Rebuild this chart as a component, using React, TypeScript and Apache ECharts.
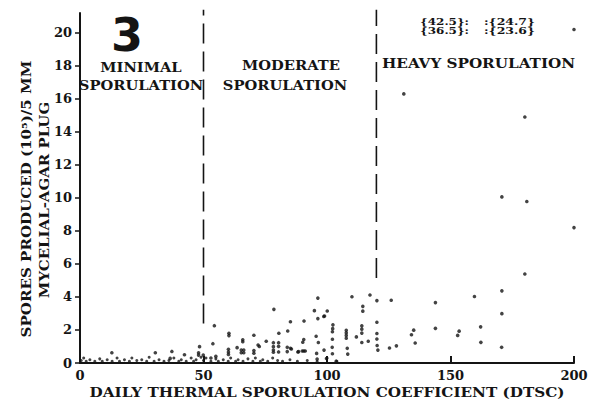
import React, { useEffect, useRef } from "react";
import * as echarts from "echarts";

const xTicks = [0, 50, 100, 150, 200];
const yTicks = [0, 2, 4, 6, 8, 10, 12, 14, 16, 18, 20];

// near-zero observations along the baseline
const baselinePoints: number[][] = [
  [0.5, 0.15], [1.5, 0.3], [2.5, 0.1], [4, 0.2], [6, 0.1], [8, 0.25], [9, 0.1], [11, 0.2],
  [13, 0.1], [15, 0.3], [16, 0.1], [18, 0.2], [20, 0.1], [21, 0.3], [23, 0.15], [25, 0.2],
  [27, 0.1], [28, 0.35], [30, 0.1], [32, 0.2], [34, 0.1], [36, 0.15], [38, 0.3], [40, 0.1],
  [41, 0.2], [43, 0.1], [45, 0.3], [46, 0.1], [47, 0.2], [49, 0.35], [50, 0.15], [51, 0.3],
  [53, 0.1], [55, 0.25], [56, 0.1], [58, 0.2], [60, 0.1], [61, 0.3], [63, 0.1], [64, 0.2],
  [66, 0.1], [68, 0.25], [70, 0.1], [71, 0.3], [73, 0.1], [74, 0.2], [76, 0.1], [78, 0.3],
  [80, 0.15], [82, 0.1], [85, 0.2], [88, 0.1], [92, 0.15], [96, 0.1], [100, 0.3], [104, 0.1],
];

// observations above the baseline
const sporePoints: number[][] = [
  [12.9, 0.62], [30.5, 0.62], [37.2, 0.7], [36.5, 0.28], [42.3, 0.5], [48, 0.62], [48, 0.48],
  [48.4, 0.99], [49.9, 0.48], [54.4, 2.26], [53.8, 1.17], [55, 0.4], [53, 0.3],
  [60.3, 1.8], [60.3, 1.66], [60.1, 0.83], [60.1, 0.67], [60.1, 0.52], [63.6, 0.93],
  [65.3, 0.79], [66.3, 0.79], [65.3, 0.62], [66.3, 0.62], [65.9, 1.41], [65.9, 1.29],
  [70.4, 1.68], [70.4, 0.75], [70.4, 0.59], [72.1, 1.09], [72.6, 1.0], [75.4, 1.32],
  [78.5, 3.25], [78.3, 1.23], [78.3, 0.99], [78.3, 0.79], [78.3, 0.65], [80.5, 1.8],
  [80.4, 1.23], [80.4, 1.01], [80.4, 0.67], [84.1, 1.94], [85.2, 2.5], [83.9, 0.95],
  [83.9, 0.69], [85.6, 0.85], [85.2, 0.89], [88.2, 0.67], [88.5, 0.69],
  [90.7, 2.54], [90.6, 1.42], [90.2, 1.26], [90.0, 0.73], [90.6, 0.73], [91.2, 0.73],
  [94.9, 3.17], [96.3, 3.93], [96.3, 2.69], [95.6, 1.62], [96.5, 1.24], [95.8, 0.58],
  [96, 0.24], [99, 2.85], [98.7, 2.82], [100.1, 3.15], [98.8, 0.78], [99.8, 0.27],
  [102.4, 2.31], [102.3, 2.08], [102.2, 1.89], [102.2, 1.44], [102.1, 0.95], [102.2, 0.56],
  [103.7, 0.11], [107.8, 1.98], [107.8, 1.83], [107.8, 1.67], [107.8, 1.5], [108.2, 0.89],
  [108.4, 0.54], [110.1, 4.01], [111.9, 1.58], [114.1, 2.25], [114.1, 2.05], [114.1, 1.81],
  [114.1, 1.24], [114.5, 3.43], [114.5, 3.14], [116.7, 1.32], [117.4, 4.12], [120.2, 3.78],
  [120.2, 2.47], [120.2, 1.79], [120.2, 1.45], [120.3, 1.06], [120.6, 0.78], [125.3, 0.91],
  [126, 3.8], [128.1, 1.04], [131.1, 16.3], [134.2, 1.71], [135.1, 1.99], [135.7, 1.21],
  [143.9, 3.66], [143.9, 2.1], [152.9, 1.67], [153.5, 1.93], [159.7, 4.03], [162.2, 2.19],
  [162.3, 1.25], [170.8, 4.37], [170.8, 2.99], [170.7, 0.95], [170.8, 10.06], [180.1, 5.39],
  [180.1, 14.9], [180.9, 9.78], [200, 8.2], [200, 20.2],
];

// class boundaries (DTSC) and where their dashed lines stop
const boundaryMinimal: number[][] = [[50, 2.4], [50, 21.4]];
const boundaryHeavy: number[][] = [[120, 5.15], [120, 21.4]];

// off-scale values noted at the top right
const offScaleLeft = "{42.5}:\n{36.5}:";
const offScaleRight = ":{24.7}\n:{23.6}";

const INK = "#141414";
const SERIF = "'DejaVu Serif', serif";

export default function App() {
  const ref = useRef<HTMLDivElement>(null);

  useEffect(() => {
    if (!ref.current) return;
    const chart = echarts.init(ref.current, null, { renderer: "svg" });
    const labelFont = { fontFamily: SERIF, fontWeight: "bold" as const, color: INK };
    const dashed = {
      type: "line",
      symbol: "none",
      clip: false,
      silent: true,
      lineStyle: { color: INK, width: 1.6, type: [20, 8] },
    };
    const label = (text: string, x: number, y: number, align: string, scaleX: number) => ({
      type: "text",
      x,
      y,
      scaleX,
      style: { text, font: `bold 13px ${SERIF}`, fill: INK, textAlign: align, textVerticalAlign: "middle" },
    });
    chart.setOption({
      animation: false,
      backgroundColor: "#ffffff",
      grid: { left: 80, right: 19, top: 13, bottom: 37 },
      xAxis: {
        type: "value",
        min: 0,
        max: 200,
        interval: 50,
        axisLine: { show: true, lineStyle: { color: INK, width: 2 } },
        axisTick: { show: true, inside: true, length: 7, lineStyle: { color: INK, width: 2 }, customValues: xTicks },
        axisLabel: { ...labelFont, fontSize: 13, margin: 6, customValues: xTicks },
        splitLine: { show: false },
      },
      yAxis: {
        type: "value",
        min: 0,
        max: 21.2,
        interval: 2,
        axisLine: { show: true, lineStyle: { color: INK, width: 2 } },
        axisTick: { show: true, length: 5, lineStyle: { color: INK, width: 1.5 }, customValues: yTicks },
        axisLabel: { ...labelFont, fontSize: 13, margin: 8, customValues: yTicks },
        splitLine: { show: false },
      },
      series: [
        {
          type: "scatter",
          data: baselinePoints,
          symbolSize: 3,
          clip: false,
          itemStyle: { color: INK },
        },
        {
          type: "scatter",
          data: sporePoints,
          symbolSize: 3.6,
          clip: false,
          itemStyle: { color: INK },
        },
        { ...dashed, data: boundaryMinimal },
        { ...dashed, data: boundaryHeavy },
      ],
      graphic: [
        {
          type: "text",
          x: 127,
          y: 35,
          style: {
            text: "3",
            fontFamily: "'DejaVu Sans', sans-serif",
            fontWeight: "bold",
            fontSize: 46,
            fill: INK,
            textAlign: "center",
            textVerticalAlign: "middle",
          },
        },
        label("MINIMAL", 141, 67, "center", 1.13),
        label("SPORULATION", 141, 85, "center", 1.13),
        label("MODERATE", 291, 65, "center", 1.13),
        label("SPORULATION", 285, 85, "center", 1.13),
        label("HEAVY SPORULATION", 382, 63, "left", 1.17),
        {
          type: "text",
          x: 420,
          y: 26,
          scaleX: 1.2,
          style: {
            text: offScaleLeft,
            font: `bold 10px ${SERIF}`,
            lineHeight: 9,
            fill: INK,
            textAlign: "left",
            textVerticalAlign: "middle",
          },
        },
        {
          type: "text",
          x: 484,
          y: 26,
          scaleX: 1.25,
          style: {
            text: offScaleRight,
            font: `bold 10px ${SERIF}`,
            lineHeight: 9,
            fill: INK,
            textAlign: "left",
            textVerticalAlign: "middle",
          },
        },
        {
          type: "text",
          x: 26,
          y: 199,
          rotation: Math.PI / 2,
          scaleX: 1.16,
          style: {
            text: "SPORES PRODUCED (10\u2075)/5 MM",
            font: `bold 13px ${SERIF}`,
            fill: INK,
            textAlign: "center",
            textVerticalAlign: "middle",
          },
        },
        {
          type: "text",
          x: 44,
          y: 200,
          rotation: Math.PI / 2,
          scaleX: 1.15,
          style: {
            text: "MYCELIAL-AGAR PLUG",
            font: `bold 13px ${SERIF}`,
            fill: INK,
            textAlign: "center",
            textVerticalAlign: "middle",
          },
        },
        {
          type: "text",
          x: 327,
          y: 392,
          scaleX: 1.17,
          style: {
            text: "DAILY THERMAL SPORULATION COEFFICIENT (DTSC)",
            font: `bold 13px ${SERIF}`,
            fill: INK,
            textAlign: "center",
            textVerticalAlign: "middle",
          },
        },
      ],
    });
    return () => chart.dispose();
  }, []);

  return (
    <div
      ref={ref}
      style={{ position: "fixed", left: 0, top: 0, width: 593, height: 400, background: "#fff" }}
    />
  );
}
